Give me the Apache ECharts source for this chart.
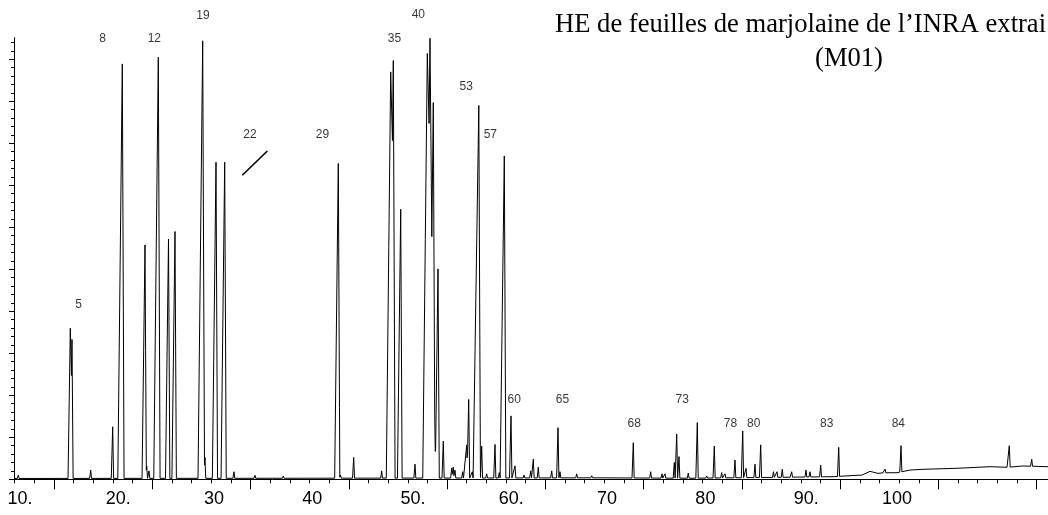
<!DOCTYPE html>
<html><head><meta charset="utf-8">
<script src="https://cdn.jsdelivr.net/npm/echarts@6/dist/echarts.min.js"></script>
<style>html,body{margin:0;padding:0;background:#fff}#c{width:1048px;height:515px}</style>
</head><body><div id="c"></div>
<script>
// ---- data (retention units, intensity units) ----
const peakRT = [8.558,13.137,13.849,14.022,15.925,18.164,19.141,21.451,21.624,21.858,22.804,23.842,24.503,26.030,27.322,27.55,28.676,29.561,30.507,32.644,35.524,39.971,41.121,41.345,42.688,45.537,46.453,46.718,47.471,48.926,50.178,50.452,50.788,50.931,51.267,51.806,52.661,52.823,52.996,53.780,54.187,54.390,54.757,55.418,55.713,56.222,57.067,57.505,58.013,58.695,59.102,60.018,60.700,60.965,61.473,62.837,63.478,63.681,65.381,66.907,68.434,71.140,72.911,74.061,74.366,75.312,75.557,75.791,76.737,77.653,78.610,79.383,80.136,80.472,81.489,82.273,82.609,83.524,84.104,85.407,85.763,86.303,87.259,88.714,89.121,90.210,92.042,96.753,98.382,99.633,109.402,111.682];
const peakTop = [1.0,0.6,35.95,33.3,2.2,12.5,98.9,55.8,3.2,2.0,100.5,57.2,59.0,0.6,104.4,5.2,75.5,75.5,1.8,0.95,0.8,0.4,75.2,1.0,5.2,2.0,97.0,99.7,64.3,3.6,101.4,105.0,89.7,15.5,50.1,9.1,2.7,2.9,2.2,1.8,8.2,19.0,1.8,89.0,7.9,1.3,8.3,1.6,77.0,15.1,3.2,1.0,2.0,4.8,2.9,2.0,12.3,1.8,1.3,0.85,0.8,8.7,1.8,1.3,1.3,4.0,10.8,5.4,1.5,13.5,0.8,7.9,1.6,1.3,4.6,11.5,2.6,3.6,8.2,1.8,1.8,2.4,1.8,2.2,1.8,3.4,7.6,2.45,8.0,2.6,8.0,4.8];
const baseRT = [8.12,37.22,67.75,76.91,87.09,91.46,93.90,94.41,95.23,96.04,96.55,97.98,99.30,100.62,104.08,107.44,109.17,110.80,113.34];
const baseLevel = [0.2,0.25,0.35,0.25,0.5,0.62,0.95,1.0,1.9,1.4,1.55,1.57,2.2,2.38,2.62,3.0,2.86,3.17,3.0];
const labelNames = ['5','8','12','19','22','29','35','40','53','57','60','65','68','73','78','80','83','84'];
const labelRT = [14.704,17.126,22.397,27.353,32.135,39.513,46.840,49.262,54.136,56.589,59.021,63.936,71.232,76.117,81.031,83.402,90.821,98.107];
const labelLevel = [41.69,104.79,104.79,110.48,82.05,82.05,104.79,110.5,93.48,82.05,19.0,19.0,13.33,19.0,13.33,13.33,13.33,13.33];
const xTickValues = [10,20,30,40,50,60,70,80,90,100];
const xTickLabels = ['10.','20.','30','40','50.','60.','70','80','90.','100'];
const pointerLine = [[31.35,72.38],[33.90,78.17]];
const titleLine1 = 'HE de feuilles de marjolaine de l\u2019INRA extrai';
const titleLine2 = '(M01)';

// ---- build trace (triangular peaks on a drifting baseline) ----
const X_MIN = 8.12, X_MAX = 113.34, Y_MAX = 105.14;
const WL0 = 0.10, WL1 = 0.0036, WR0 = 0.08, WR1 = 0.001;
function baseAt(x){
  if (x <= baseRT[0]) return baseLevel[0];
  for (let i = 1; i < baseRT.length; i++) {
    if (x <= baseRT[i]) {
      const t = (x - baseRT[i-1]) / (baseRT[i] - baseRT[i-1]);
      return baseLevel[i-1] + t * (baseLevel[i] - baseLevel[i-1]);
    }
  }
  return baseLevel[baseLevel.length-1];
}
const xsSet = new Set(baseRT);
peakRT.forEach((rt,i)=>{
  const h = peakTop[i];
  xsSet.add(rt - (WL0 + WL1*h)); xsSet.add(rt); xsSet.add(rt + (WR0 + WR1*h));
});
const xs = [...xsSet].filter(x => x >= X_MIN && x <= X_MAX).sort((a,b)=>a-b);
const trace = xs.map(x => {
  const b = baseAt(x);
  let m = 0;
  peakRT.forEach((rt,i)=>{
    const h = peakTop[i] - baseAt(rt);
    const wl = WL0 + WL1*peakTop[i], wr = WR0 + WR1*peakTop[i];
    let f = 0;
    if (x >= rt - wl && x <= rt) f = (x - (rt - wl)) / wl;
    else if (x > rt && x <= rt + wr) f = (rt + wr - x) / wr;
    if (h*f > m) m = h*f;
  });
  return [x, b + m];
});

const black = '#000';
const sans = "'Liberation Sans', Arial, sans-serif";
const serif = "'Liberation Serif', 'Times New Roman', serif";
const hidden = (g) => ({ gridIndex: g, type: 'value', show: false, min: 0, max: 1 });

const chart = echarts.init(document.getElementById('c'), null, {renderer: 'canvas'});
chart.setOption({
  animation: false,
  backgroundColor: '#fff',
  title: [
    { text: titleLine1, left: 555, top: 12, padding: 0, textStyle: { fontFamily: serif, fontSize: 26.6, fontWeight: 'normal', color: black } },
    { text: titleLine2, left: 849, top: 46, padding: 0, textAlign: 'center', textStyle: { fontFamily: serif, fontSize: 26.6, fontWeight: 'normal', color: black } }
  ],
  grid: [
    { left: 14, right: 0, top: 37.7, bottom: 35.7 },     // data
    { left: 14.7, right: 11.3, top: 37.7, bottom: 35.7 }, // x minor ticks
    { left: 54, right: 11.3, top: 37.7, bottom: 35.7 },   // x major ticks
    { left: 32.5, right: 131.07, top: 37.7, bottom: 35.7 }, // x labels
    { left: 14, right: 0, top: 42.5, bottom: 35.7 },      // y minor ticks
    { left: 14, right: 0, top: 59.3, bottom: 35.7 }       // y major ticks
  ],
  xAxis: [
    { gridIndex: 0, type: 'value', min: X_MIN, max: X_MAX,
      axisLine: { show: true, lineStyle: { color: black, width: 1 } },
      axisTick: { show: false }, axisLabel: { show: false }, splitLine: { show: false } },
    { gridIndex: 1, type: 'value', min: 0, max: 104, interval: 2,
      axisLine: { show: false }, axisTick: { show: true, length: 4, lineStyle: { color: black } },
      axisLabel: { show: false }, splitLine: { show: false } },
    { gridIndex: 2, type: 'value', min: 0, max: 100, interval: 10,
      axisLine: { show: false }, axisTick: { show: true, length: 10, lineStyle: { color: black } },
      axisLabel: { show: false }, splitLine: { show: false } },
    { gridIndex: 3, type: 'value', min: 10, max: 100, interval: 10,
      axisLine: { show: false }, axisTick: { show: false }, splitLine: { show: false },
      axisLabel: { show: true, showMinLabel: true, showMaxLabel: true, align: 'right', margin: 11,
        fontFamily: sans, fontSize: 18, color: black,
        formatter: v => { const i = xTickValues.indexOf(Math.round(v)); const t = xTickLabels[i] || ''; return t.endsWith('.') ? t : '{n|' + t + '}'; },
        rich: { n: { fontFamily: sans, fontSize: 18, color: black, padding: [0, 5, 0, 0] } } } },
    hidden(4), hidden(5)
  ],
  yAxis: [
    { gridIndex: 0, type: 'value', min: 0, max: Y_MAX,
      axisLine: { show: true, lineStyle: { color: black, width: 1 } },
      axisTick: { show: false }, axisLabel: { show: false }, splitLine: { show: false } },
    hidden(1), hidden(2), hidden(3),
    { gridIndex: 4, type: 'value', min: 0, max: 104, interval: 2,
      axisLine: { show: false }, axisTick: { show: true, length: 3, lineStyle: { color: black } },
      axisLabel: { show: false }, splitLine: { show: false } },
    { gridIndex: 5, type: 'value', min: 0, max: 100, interval: 10,
      axisLine: { show: false }, axisTick: { show: true, length: 5, lineStyle: { color: black } },
      axisLabel: { show: false }, splitLine: { show: false } }
  ],
  series: [
    { type: 'line', xAxisIndex: 0, yAxisIndex: 0, data: trace, showSymbol: false, symbol: 'none',
      lineStyle: { color: black, width: 1 }, sampling: null, silent: true },
    { type: 'scatter', xAxisIndex: 0, yAxisIndex: 0, clip: false, symbolSize: 0, silent: true,
      data: labelRT.map((x,i)=>[x, labelLevel[i], labelNames[i]]),
      label: { show: true, position: 'inside', formatter: p => p.value[2],
        fontFamily: sans, fontSize: 12, color: black },
      markLine: { silent: true, symbol: ['none','none'], label: { show: false },
        lineStyle: { color: black, width: 1.6, type: 'solid' },
        data: [[{ coord: pointerLine[0] }, { coord: pointerLine[1] }]] } }
  ]
});
</script></body></html>
